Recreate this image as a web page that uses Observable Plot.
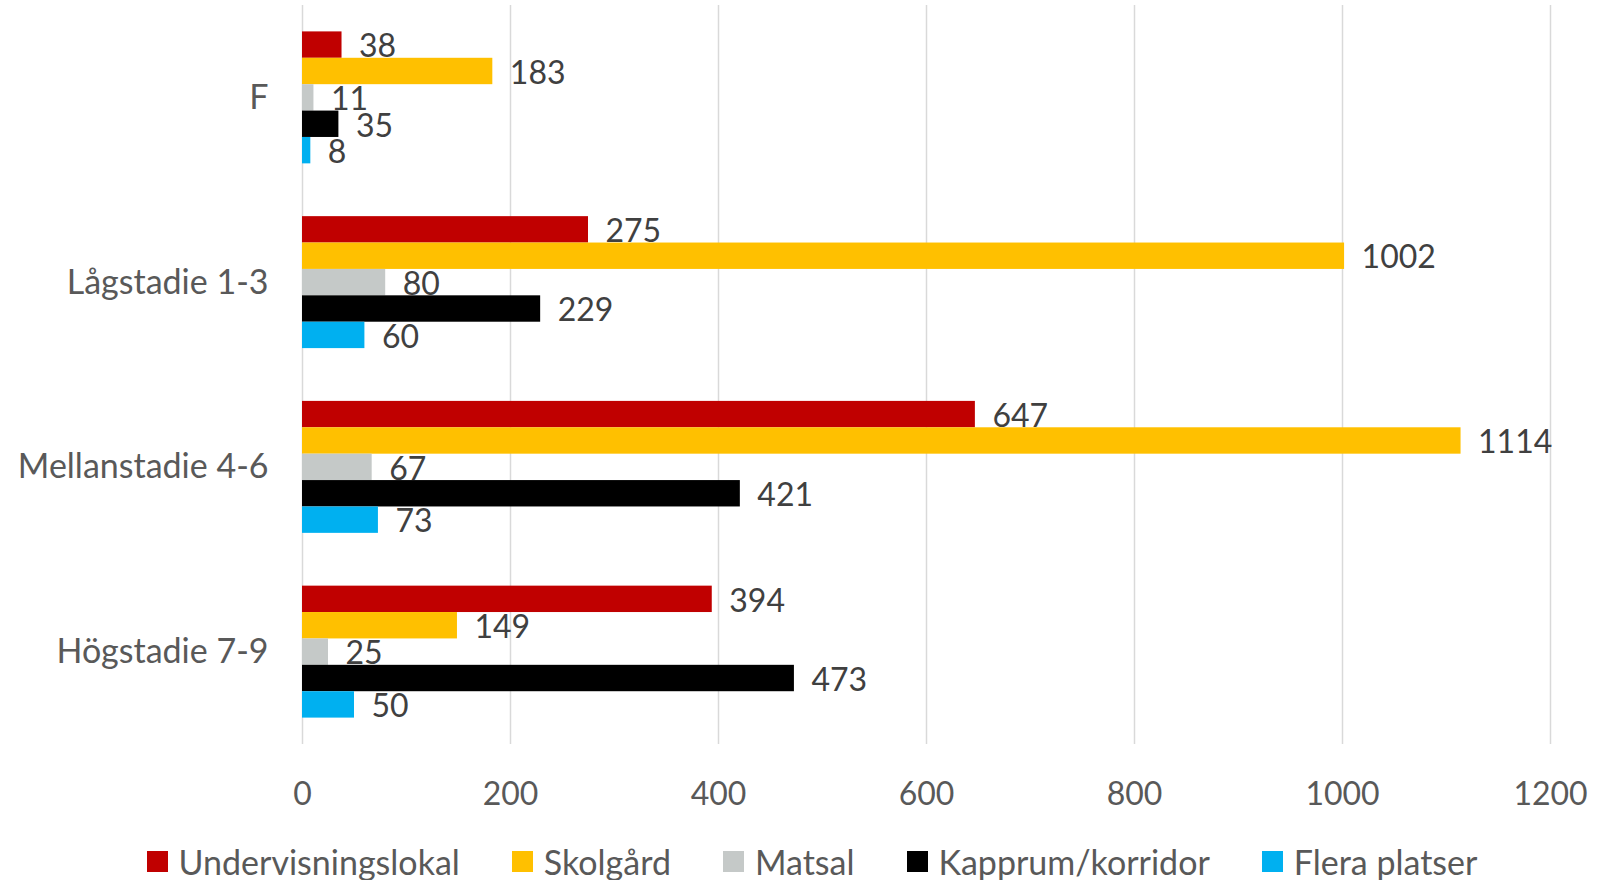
<!DOCTYPE html>
<html>
<head>
<meta charset="utf-8">
<script src="https://cdn.jsdelivr.net/npm/d3@7"></script>
<script src="https://cdn.jsdelivr.net/npm/@observablehq/plot@0.6"></script>
<style>
  body { margin: 0; background: #fff; font-family: Lato, "Open Sans", sans-serif; }
  #legend { display: flex; justify-content: center; align-items: center; height: 62px; font-size: 34px; color: #595959; padding-left: 22px; }
  #legend .item { display: flex; align-items: center; margin: 0 26px; }
  #legend .sw { width: 21px; height: 21px; margin-right: 11px; }
</style>
</head>
<body>
<div id="chart"></div>
<div id="legend"></div>
<script>
const categories = ["F", "Lågstadie 1-3", "Mellanstadie 4-6", "Högstadie 7-9"];
const series = ["Undervisningslokal", "Skolgård", "Matsal", "Kapprum/korridor", "Flera platser"];
const colors = ["#C00000", "#FFC000", "#C5C9C8", "#000000", "#00B0F0"];
const values = [
  [38, 183, 11, 35, 8],
  [275, 1002, 80, 229, 60],
  [647, 1114, 67, 421, 73],
  [394, 149, 25, 473, 50]
];
const xTicks = [0, 200, 400, 600, 800, 1000, 1200];

const data = [];
categories.forEach((c, ci) => series.forEach((s, si) => data.push({cat: c, ci, series: s, si, value: values[ci][si], key: ci + "-" + si})));

// band domain: bars per category, with spacer bands between groups
const domain = ["pad-top"];
categories.forEach((c, ci) => {
  series.forEach((s, si) => domain.push(ci + "-" + si));
  if (ci < categories.length - 1) { domain.push("gap" + ci + "a"); domain.push("gap" + ci + "b"); }
});
domain.push("pad-bottom");

const chart = Plot.plot({
  width: 1602,
  height: 830,
  marginTop: 5,
  marginBottom: 86,
  marginLeft: 302,
  marginRight: 52,
  style: { fontFamily: "Lato, 'Open Sans', sans-serif", background: "#fff" },
  x: { domain: [0, 1200] },
  y: { type: "band", domain, padding: 0, round: false },
  color: { domain: series, range: colors },
  marks: [
    Plot.gridX(xTicks, { stroke: "#D9D9D9", strokeOpacity: 1, strokeWidth: 1.5 }),
    Plot.barX(data, { x: "value", y: "key", fill: "series" }),
    Plot.text(data, { x: "value", y: "key", text: d => String(d.value), textAnchor: "start", dx: 17, dy: 2, fill: "#404040", fontSize: 32 }),
    Plot.axisX({ ticks: xTicks, tickFormat: d => String(d), tickSize: 0, tickPadding: 38, fontSize: 32, color: "#595959", label: null }),
    Plot.axisY({ ticks: categories.map((c, ci) => ci + "-2"), tickFormat: d => categories[+d.split("-")[0]], tickSize: 0, tickPadding: 34, fontSize: 34, color: "#595959", label: null })
  ]
});
document.getElementById("chart").appendChild(chart);

const legend = document.getElementById("legend");
series.forEach((s, i) => {
  const item = document.createElement("div");
  item.className = "item";
  const sw = document.createElement("div");
  sw.className = "sw";
  sw.style.background = colors[i];
  const t = document.createElement("span");
  t.textContent = s;
  item.appendChild(sw); item.appendChild(t);
  legend.appendChild(item);
});
</script>
</body>
</html>
